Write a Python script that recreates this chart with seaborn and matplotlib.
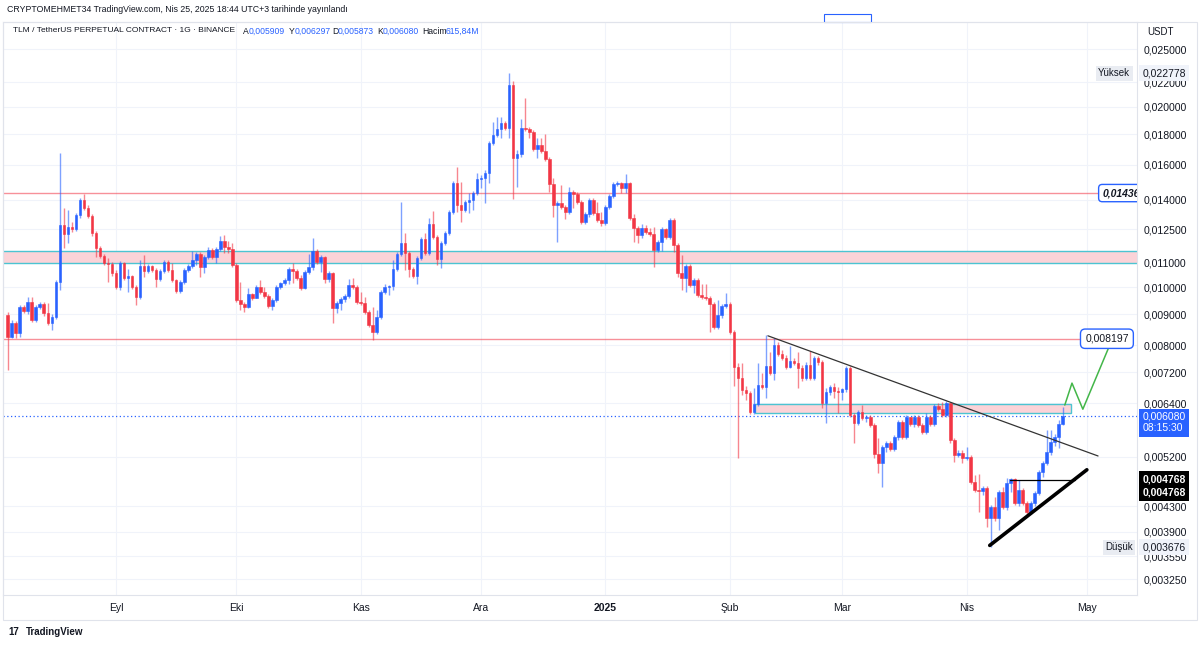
import numpy as np
import pandas as pd
import seaborn as sns
import matplotlib
matplotlib.use("Agg")
import matplotlib.pyplot as plt
import matplotlib.dates as mdates
import matplotlib.transforms as mtransforms
from matplotlib.patches import Rectangle
from matplotlib.ticker import FixedLocator, FuncFormatter, NullLocator

# TLM / USDT perpetual, daily candles (open = previous close)
start_date = "2024-08-05"
first_open = 0.00898
closes = [
    .00825, .00871, .00838, .00926, .00912, .00944, .00881, .00926, .00936, .00905,
    .00871, .00892, .01020, .01270, .01227, .01260, .01251, .01319, .01398, .01356,
    .01314, .01232, .01163, .01127, .01097, .01093, .01056, .01001, .01097, .01036,
    .01044, .01001, .00963, .01085, .01064, .01085, .01068, .01032, .01064, .01101,
    .01068, .01028, .00985, .01020, .01068, .01085, .01110, .01136, .01080, .01123,
    .01153, .01123, .01158, .01194, .01167, .01158, .01089, .00951, .00936, .00926,
    .00974, .00959, .01001, .00981, .00966, .00929, .00951, .01001, .01016, .01028,
    .01072, .01064, .01036, .00997, .01060, .01080, .01149, .01101, .01123, .01032,
    .01056, .00922, .00940, .00955, .00966, .01008, .01001, .00944, .00940, .00909,
    .00864, .00841, .00892, .00981, .01001, .01005, .01072, .01136, .01185, .01140,
    .01072, .01044, .01118, .01204, .01140, .01275, .01213, .01114, .01185, .01232,
    .01335, .01493, .01371, .01345, .01387, .01398, .01436, .01516, .01521, .01551,
    .01741, .01795, .01837, .01880, .01844, .02177, .01644, .01669, .01844, .01837,
    .01816, .01701, .01727, .01689, .01637, .01487, .01371, .01382, .01361, .01335,
    .01442, .01431, .01387, .01285, .01324, .01398, .01330, .01295, .01280, .01361,
    .01420, .01487, .01493, .01464, .01493, .01304, .01256, .01222, .01256, .01236,
    .01227, .01153, .01190, .01251, .01213, .01295, .01176, .01056, .01036, .01085,
    .01008, .01028, .00970, .00963, .00959, .00936, .00858, .00898, .00929, .00936,
    .00841, .00735, .00705, .00673, .00665, .00618, .00637, .00686, .00680, .00738,
    .00718, .00800, .00773, .00761, .00735, .00752, .00746, .00732, .00705, .00741,
    .00705, .00761, .00749, .00640, .00668, .00680, .00670, .00668, .00675, .00732,
    .00611, .00593, .00618, .00604, .00606, .00589, .00526, .00508, .00541, .00549,
    .00537, .00562, .00595, .00562, .00606, .00591, .00606, .00589, .00573, .00606,
    .00591, .00632, .00625, .00611, .00640, .00555, .00524, .00528, .00518, .00520,
    .00473, .00458, .00456, .00462, .00411, .00429, .00411, .00455, .00429, .00471,
    .00478, .00436, .00458, .00436, .00421, .00436, .00453, .00491, .00508, .00530,
    .00551, .00562, .005909, .006080,
]
highs = [
    .00909, .00881, .00878, .00933, .00933, .00963, .00963, .00933, .00944, .00944,
    .00940, .00902, .01028, .01676, .01356, .01345, .01285, .01330, .01409, .01431,
    .01371, .01324, .01241, .01172, .01136, .01118, .01101, .01068, .01106, .01101,
    .01072, .01048, .01008, .01110, .01131, .01093, .01089, .01076, .01072, .01110,
    .01110, .01097, .01032, .01028, .01076, .01093, .01149, .01145, .01145, .01131,
    .01167, .01163, .01167, .01218, .01222, .01194, .01185, .01097, .01020, .00944,
    .00997, .00978, .01008, .01028, .01001, .00974, .00959, .01008, .01020, .01036,
    .01080, .01097, .01072, .01048, .01068, .01136, .01208, .01158, .01131, .01127,
    .01064, .01060, .00947, .00963, .00974, .01032, .01036, .01008, .00981, .00963,
    .00916, .00926, .00916, .00989, .01012, .01008, .01110, .01145, .01387, .01232,
    .01149, .01080, .01127, .01213, .01232, .01304, .01340, .01222, .01194, .01241,
    .01345, .01504, .01588, .01498, .01398, .01436, .01447, .01551, .01539, .01569,
    .01754, .01887, .01924, .01924, .01895, .02278, .02211, .01695, .01910, .02070,
    .01851, .01830, .01775, .01775, .01802, .01650, .01521, .01393, .01481, .01371,
    .01470, .01453, .01442, .01398, .01335, .01409, .01409, .01387, .01335, .01371,
    .01431, .01498, .01504, .01498, .01545, .01498, .01324, .01265, .01275, .01270,
    .01256, .01260, .01199, .01260, .01256, .01304, .01304, .01185, .01131, .01093,
    .01093, .01036, .01036, .01012, .01012, .00966, .00944, .00951, .00936, .00978,
    .00944, .00848, .00746, .00746, .00683, .00670, .00678, .00746, .00718, .00832,
    .00779, .00822, .00810, .00785, .00770, .00797, .00761, .00779, .00741, .00749,
    .00782, .00767, .00767, .00755, .00678, .00686, .00691, .00680, .00678, .00738,
    .00738, .00616, .00623, .00635, .00611, .00611, .00593, .00560, .00545, .00553,
    .00553, .00566, .00600, .00600, .00611, .00606, .00611, .00611, .00593, .00616,
    .00611, .00637, .00640, .00642, .00645, .00640, .00560, .00534, .00534, .00541,
    .00524, .00486, .00487, .00465, .00465, .00432, .00446, .00458, .00464, .00480,
    .00480, .00480, .00476, .00462, .00439, .00439, .00456, .00495, .00512, .00577,
    .00577, .00569, .00600, .006297,
]
lows = [
    .00727, .00822, .00822, .00825, .00905, .00902, .00875, .00875, .00919, .00895,
    .00864, .00848, .00885, .00989, .01163, .01185, .01236, .01241, .01304, .01345,
    .01304, .01218, .01123, .01118, .01089, .01020, .01044, .00993, .00989, .01028,
    .00981, .00993, .00933, .00955, .01040, .01056, .01060, .01001, .01024, .01056,
    .01060, .01020, .00978, .00978, .01012, .01060, .01076, .01089, .01040, .01056,
    .01114, .01114, .01097, .01149, .01140, .01140, .01080, .00944, .00916, .00909,
    .00922, .00951, .00959, .00974, .00959, .00922, .00916, .00944, .00993, .01008,
    .01012, .01016, .01028, .00989, .00993, .01052, .01068, .01093, .01060, .01016,
    .01020, .00871, .00905, .00916, .00944, .00959, .00993, .00936, .00933, .00902,
    .00858, .00816, .00835, .00885, .00974, .00970, .00989, .01064, .01127, .01068,
    .01040, .01036, .01012, .01110, .01131, .01131, .01204, .01089, .01076, .01176,
    .01222, .01324, .01335, .01285, .01335, .01330, .01345, .01425, .01464, .01382,
    .01493, .01727, .01781, .01775, .01830, .01775, .01404, .01470, .01650, .01823,
    .01775, .01689, .01644, .01676, .01625, .01442, .01309, .01190, .01350, .01299,
    .01324, .01356, .01377, .01275, .01275, .01309, .01319, .01285, .01265, .01270,
    .01350, .01409, .01476, .01436, .01436, .01295, .01190, .01185, .01208, .01227,
    .01218, .01080, .01145, .01149, .01204, .01204, .01145, .01040, .00989, .00981,
    .01001, .00978, .00963, .00955, .00951, .00841, .00851, .00851, .00888, .00922,
    .00835, .00683, .00518, .00660, .00647, .00613, .00613, .00632, .00675, .00653,
    .00713, .00699, .00767, .00755, .00729, .00732, .00741, .00678, .00696, .00699,
    .00699, .00699, .00741, .00627, .00593, .00660, .00653, .00616, .00647, .00668,
    .00606, .00549, .00589, .00600, .00595, .00584, .00518, .00489, .00464, .00530,
    .00532, .00532, .00555, .00557, .00557, .00586, .00584, .00584, .00569, .00569,
    .00586, .00586, .00621, .00606, .00606, .00549, .00510, .00520, .00508, .00514,
    .00469, .00455, .00421, .00449, .00397, .003676, .00406, .00393, .00426, .00424,
    .00455, .00432, .00431, .00432, .00413, .00418, .00431, .00449, .00482, .00504,
    .00524, .00543, .00539, .005873,
]

# drawings on the chart
resist_level = 0.01436
target_level = 0.008197
upper_zone = (0.01097, 0.01149)
lower_zone = (0.00616, 0.00637)
lower_zone_dates = ["2025-02-07 08:00", "2025-04-27 00:00"]
box_level = 0.004768
box_dates = ["2025-04-11 19:00", "2025-04-28 00:00"]
down_trend_dates = ["2025-02-10 12:00", "2025-05-03 19:00"]
down_trend_prices = [0.00829, 0.00522]
up_trend_dates = ["2025-04-06 19:00", "2025-05-01 00:00"]
up_trend_prices = [0.00370, 0.00495]
proj_dates = ["2025-04-25 12:00", "2025-04-27 07:00", "2025-04-30 00:00", "2025-05-06 17:00"]
proj_prices = [0.00635, 0.00691, 0.00625, 0.00800]
period_high = 0.022778
period_low = 0.003676

y_ticks = [0.00325, 0.00355, 0.0039, 0.0043, 0.0052, 0.0064, 0.0072, 0.008, 0.009,
           0.010, 0.011, 0.0125, 0.014, 0.016, 0.018, 0.020, 0.022, 0.025]
month_ticks = ["2024-09-01", "2024-10-01", "2024-11-01", "2024-12-01", "2025-01-01",
               "2025-02-01", "2025-03-01", "2025-04-01", "2025-05-01"]
month_labels = ["Eyl", "Eki", "Kas", "Ara", "2025", "Şub", "Mar", "Nis", "May"]

UP, DOWN = "#2962ff", "#f23645"
TEAL, PINK = "#4cc4d2", "#fbd3d8"
GRID, BORDER, TXT = "#f0f3fa", "#e0e3eb", "#131722"

sns.set_style("white")
plt.rcParams["font.family"] = ["Liberation Sans", "DejaVu Sans"]


def d2n(ds):
    return mdates.date2num(pd.to_datetime(list(ds), format="ISO8601"))


df = pd.DataFrame({
    "date": pd.date_range(start_date, periods=len(closes), freq="D"),
    "close": closes, "high": highs, "low": lows,
})
df["open"] = df["close"].shift(1).fillna(first_open)
df["high"] = df[["high", "open", "close"]].max(axis=1)
df["low"] = df[["low", "open", "close"]].min(axis=1)
df["x"] = mdates.date2num(df["date"])
up = df["close"] >= df["open"]
colors = np.where(up, UP, DOWN)

W, H = 1200, 646
fig = plt.figure(figsize=(W / 100, H / 100), dpi=100)
fx = lambda px: px / W
fy = lambda py: 1 - py / H
ax = fig.add_axes([fx(3), fy(595), fx(1134), (595 - 22) / H])

x0 = df["x"].iloc[0]
ax.set_yscale("log")
ax.set_xlim(x0 - 1.17, x0 + 281.5)
ax.set_ylim(0.003057, 0.02774)

# zones and horizontal levels
ax.axhspan(*upper_zone, color=PINK, lw=0, zorder=1)
for v in upper_zone:
    ax.axhline(v, color=TEAL, lw=1, zorder=2)
zx = d2n(lower_zone_dates)
ax.add_patch(Rectangle((zx[0], lower_zone[0]), zx[1] - zx[0], lower_zone[1] - lower_zone[0],
                       fc=PINK, ec=TEAL, lw=1, zorder=2))
ax.axhline(resist_level, color=DOWN, alpha=0.55, lw=1, zorder=2)
ax.hlines(target_level, x0 - 1.17, x0 + 268, color=DOWN, alpha=0.55, lw=1, zorder=2)
ax.axhline(closes[-1], color=UP, lw=0.9, ls=(0, (1, 2)), zorder=2)

# candles
ax.vlines(df["x"], df["low"], df["high"], colors=colors, lw=1, alpha=0.6, zorder=3)
ax.bar(df["x"], (df["close"] - df["open"]).abs(), bottom=df[["open", "close"]].min(axis=1),
       width=0.65, color=colors, edgecolor=colors, linewidth=0.4, zorder=4)

# trend lines and projection
sns.lineplot(x=d2n(down_trend_dates), y=down_trend_prices, ax=ax, color="#333333",
             lw=0.9, sort=False, estimator=None, zorder=5)
sns.lineplot(x=d2n(up_trend_dates), y=up_trend_prices, ax=ax, color="black",
             lw=2.6, sort=False, estimator=None, zorder=5)
sns.lineplot(x=d2n(box_dates), y=[box_level, box_level], ax=ax, color="black",
             lw=0.9, sort=False, estimator=None, zorder=5)
sns.lineplot(x=d2n(proj_dates), y=proj_prices, ax=ax, color="#43b649",
             lw=1.1, sort=False, estimator=None, zorder=5)

# axes styling
ax.yaxis.tick_right()
ax.yaxis.set_major_locator(FixedLocator(y_ticks))
ax.yaxis.set_minor_locator(NullLocator())
ax.yaxis.set_major_formatter(FuncFormatter(lambda v, p: f"{v:.6f}".replace(".", ",")))
ax.set_xticks(d2n(month_ticks))
ax.set_xticklabels(month_labels)
ax.tick_params(axis="y", length=0, pad=5, labelsize=7.6, labelcolor=TXT)
ax.tick_params(axis="x", length=0, pad=6, labelsize=7.5, labelcolor=TXT)
for t in ax.get_xticklabels():
    if t.get_text() == "2025":
        t.set_fontweight("bold")
ax.grid(True, color=GRID, lw=0.8)
ax.set_axisbelow(True)
for s in ax.spines.values():
    s.set_color(BORDER)
    s.set_linewidth(0.8)

yx = mtransforms.blended_transform_factory(ax.transAxes, ax.transData)


def tag(price, text, fc, tc, dy=0, weight="normal"):
    ax.annotate(text, xy=(1.0, price), xycoords=yx, xytext=(4, dy), textcoords="offset points",
                ha="left", va="center", fontsize=7.5, color=tc, fontweight=weight,
                bbox=dict(boxstyle="square,pad=0.3", fc=fc, ec="none"), annotation_clip=False, zorder=10)


tag(closes[-1], "0,006080\n08:15:30", UP, "white", dy=-4.5)
tag(box_level, "0,004768", "black", "white", weight="bold")
tag(box_level, "0,004768", "black", "white", dy=-9.5, weight="bold")
tag(period_high, "0,022778", "#f0f3fa", TXT)
tag(period_low, "0,003676", "#f0f3fa", TXT)

# in-chart labels
ax.text(0.98, period_high, "Yüksek", transform=yx, ha="center", va="center", fontsize=7, color=TXT,
        bbox=dict(boxstyle="square,pad=0.25", fc="#e9ecf2", ec="none"), zorder=9)
ax.text(0.984, period_low, "Düşük", transform=yx, ha="center", va="center", fontsize=7, color=TXT,
        bbox=dict(boxstyle="square,pad=0.25", fc="#e9ecf2", ec="none"), zorder=9)
ax.text(x0 + 277.5, resist_level, "0,01436", ha="center", va="center", fontsize=7.5,
        fontweight="bold", fontstyle="italic", color=TXT, clip_on=True,
        bbox=dict(boxstyle="round,pad=0.35", fc="white", ec=UP, lw=1), zorder=9)
ax.text(x0 + 274, target_level, "0,008197", ha="center", va="center", fontsize=7.5, color=TXT,
        bbox=dict(boxstyle="round,pad=0.45", fc="white", ec=UP, lw=1), zorder=9)

# header / legend
fig.text(fx(7), fy(10), "CRYPTOMEHMET34 TradingView.com, Nis 25, 2025 18:44 UTC+3 tarihinde yayınlandı",
         fontsize=6.3, color=TXT, va="center")
fig.text(fx(13), fy(31), "TLM / TetherUS PERPETUAL CONTRACT · 1G · BINANCE", fontsize=6, color=TXT, va="center")
legend_parts = [(243, "A"), (289, "Y"), (332, "D"), (377, "K"), (422, "Hacim")]
legend_vals = [(249, "0,005909"), (295, "0,006297"), (338, "0,005873"), (383, "0,006080"), (446, "615,84M")]
for px, s in legend_parts:
    fig.text(fx(px), fy(31), s, fontsize=6.2, color=TXT, va="center")
for px, s in legend_vals:
    fig.text(fx(px), fy(31), s, fontsize=6.2, color=UP, va="center")
fig.text(fx(1147), fy(32), "USDT", fontsize=7, color=TXT, va="center")
fig.add_artist(Rectangle((fx(824), fy(22)), fx(47), 8 / H, transform=fig.transFigure,
                         fc="white", ec=UP, lw=0.8))
fig.add_artist(Rectangle((fx(3), fy(620)), fx(1194), 598 / H, transform=fig.transFigure,
                         fill=False, ec=BORDER, lw=0.8))

# footer logo
fig.text(fx(8), fy(632), "17", fontsize=7, fontweight="bold", color=TXT, va="center")
fig.text(fx(26), fy(632), "TradingView", fontsize=7, fontweight="bold", color=TXT, va="center")

fig.savefig("out.png", dpi=100, facecolor="white")
